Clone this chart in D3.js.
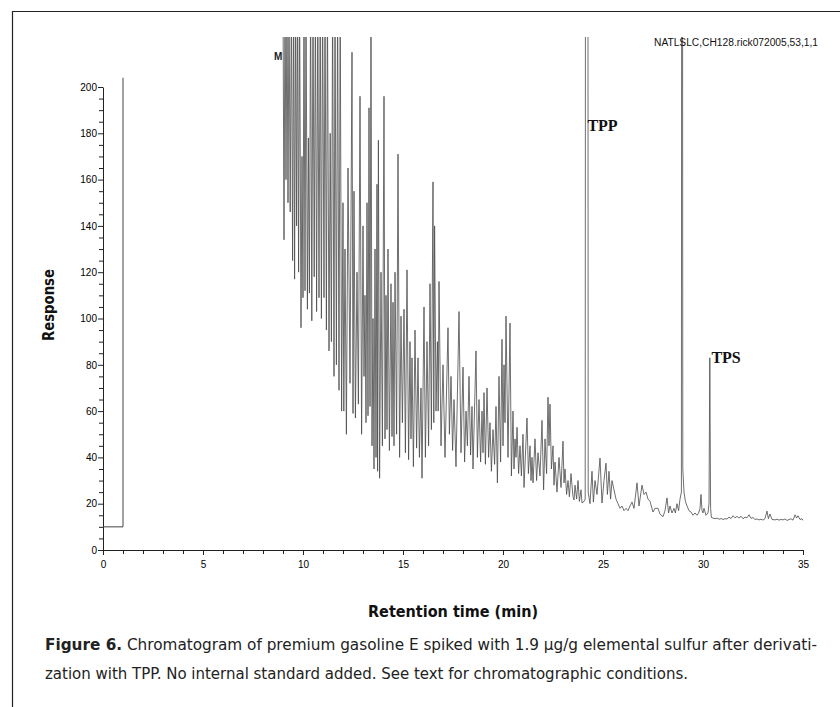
<!DOCTYPE html>
<html lang="en">
<head>
<meta charset="UTF-8">
<title>Chromatogram - premium gasoline E</title>
<script src="https://cdn.jsdelivr.net/npm/d3@7/dist/d3.min.js"></script>
<style>
  body { margin: 0; background: #fff; }
  svg { display: block; }
  .tick text { font-family: "Liberation Sans", Arial, sans-serif; font-size: 10px; fill: #000; }
  .tick line, .domain { stroke: #222; stroke-width: 1; }
</style>
</head>
<body>
<script>
// x axis: retention time (min), y axis: response
var xTicks = [0, 5, 10, 15, 20, 25, 30, 35];
var yTicks = [0, 20, 40, 60, 80, 100, 120, 140, 160, 180, 200];

// solvent-delay step at the start of the run
var solventStep = [[0, 10], [1, 10], [1, 204]];

// trace: [time, response]; peaks above ~222 run off the top
var trace = [
  [9.00,240],[9.05,134],[9.10,240],[9.15,160],[9.20,240],[9.25,150],[9.30,240],[9.36,146],[9.42,240],[9.48,125],
  [9.53,240],[9.58,117],[9.63,240],[9.68,140],[9.73,240],[9.78,120],[9.83,240],[9.90,96],[9.95,170],[10.00,109],
  [10.05,240],[10.10,112],[10.15,240],[10.22,104],[10.27,178],[10.32,111],[10.38,240],[10.44,99],[10.50,240],[10.56,118],
  [10.62,240],[10.68,103],[10.74,240],[10.80,109],[10.86,240],[10.92,100],[10.98,240],[11.05,109],[11.10,240],[11.17,95],
  [11.22,240],[11.30,86],[11.36,180],[11.42,90],[11.48,240],[11.55,75],[11.60,240],[11.67,80],[11.73,240],[11.80,69],
  [11.86,240],[11.93,60],[12.00,150],[12.04,60],[12.10,130],[12.17,50],[12.25,165],[12.35,72],[12.45,215],[12.50,59],
  [12.55,155],[12.62,57],[12.70,120],[12.77,63],[12.85,196],[12.93,50],[13.00,140],[13.05,75],[13.10,110],[13.15,55],
  [13.20,150],[13.25,58],[13.30,191],[13.35,62],[13.40,240],[13.45,45],[13.50,100],[13.55,35],[13.60,130],[13.65,40],
  [13.70,158],[13.73,34],[13.77,177],[13.83,31],[13.90,120],[13.97,45],[14.05,196],[14.10,48],[14.15,110],[14.20,52],
  [14.25,130],[14.32,43],[14.40,115],[14.45,49],[14.50,107],[14.55,45],[14.60,120],[14.68,50],[14.75,171],[14.83,40],
  [14.90,101],[14.97,55],[15.05,104],[15.12,42],[15.20,121],[15.28,39],[15.35,90],[15.40,48],[15.45,83],[15.52,36],
  [15.60,95],[15.68,44],[15.75,83],[15.82,40],[15.90,70],[15.95,31],[16.05,105],[16.12,40],[16.20,90],[16.28,45],
  [16.35,115],[16.42,52],[16.50,159],[16.54,55],[16.58,140],[16.65,60],[16.72,90],[16.76,60],[16.80,116],[16.90,45],
  [17.00,80],[17.10,40],[17.25,96],[17.32,50],[17.40,75],[17.48,43],[17.55,65],[17.65,36],[17.80,103],[17.90,42],
  [18.00,79],[18.08,38],[18.15,60],[18.22,45],[18.30,75],[18.38,41],[18.45,62],[18.50,35],[18.65,86],[18.72,40],
  [18.80,65],[18.88,38],[18.95,60],[19.00,42],[19.05,68],[19.12,37],[19.20,70],[19.28,40],[19.35,55],[19.42,34],
  [19.50,52],[19.58,37],[19.65,62],[19.72,29],[19.80,75],[19.88,38],[19.95,91],[20.00,45],[20.05,80],[20.10,55],
  [20.15,101],[20.25,40],[20.35,98],[20.42,32],[20.50,60],[20.55,35],[20.60,48],[20.65,40],[20.70,53],[20.78,33],
  [20.85,45],[20.92,32],[21.00,50],[21.05,27],[21.20,57],[21.27,33],[21.35,45],[21.40,30],[21.45,40],[21.50,29],
  [21.60,48],[21.68,30],[21.75,42],[21.85,32],[21.95,56],[22.03,26],[22.10,48],[22.18,33],[22.25,66],[22.30,45],
  [22.35,63],[22.42,35],[22.50,45],[22.55,28],[22.60,38],[22.70,25],[22.80,40],[22.90,27],[23.00,47],[23.05,29],
  [23.10,35],[23.18,24],[23.25,30],[23.32,23],[23.40,33],[23.50,23],[23.55,21.6],[23.60,28],[23.68,22],[23.75,30],
  [23.82,21],[23.90,26],[23.95,20.3],[24.05,21],[24.11,22],[24.13,400],[24.24,400],[24.26,25],[24.35,20],[24.45,34],
  [24.52,20.7],[24.60,30],[24.70,24],[24.85,39.7],[24.95,20.3],[25.05,30],[25.15,37.5],[25.22,24],[25.30,34],[25.38,22],
  [25.45,30],[25.55,26],[25.65,22],[25.75,20],[25.85,18],[25.95,19],[26.05,17],[26.15,18],[26.25,17],[26.35,19],
  [26.45,20.7],[26.55,18],[26.70,29],[26.80,19],[26.95,28],[27.05,24],[27.15,25],[27.25,22],[27.35,21],[27.50,16.4],
  [27.60,18],[27.75,18],[27.85,15.5],[28.00,14.4],[28.10,17],[28.20,22.5],[28.28,16],[28.35,19],[28.45,16],[28.55,18],
  [28.62,16],[28.70,20],[28.78,17],[28.85,22],[28.92,25],[28.94,400],[28.97,400],[28.99,35],[29.05,25],[29.12,21],
  [29.20,19],[29.30,17],[29.40,16.4],[29.50,15],[29.60,16],[29.70,15],[29.78,16],[29.85,18],[29.90,24],[29.95,17],
  [30.00,16],[30.05,18],[30.15,15],[30.25,16],[30.30,20],[30.34,83],[30.38,18],[30.42,14],[30.50,13.8],[30.60,13.5],
  [30.70,13.8],[30.80,13.3],[30.90,13.6],[31.00,13.2],[31.10,13.5],[31.20,13.4],[31.30,14.2],[31.40,13.6],[31.50,14.8],[31.60,13.9],
  [31.70,14.5],[31.80,13.8],[31.90,14.6],[32.00,13.5],[32.10,14.2],[32.20,13.9],[32.30,15.2],[32.40,13.7],[32.50,14.0],[32.60,13.2],
  [32.70,13.4],[32.80,13.0],[32.90,13.3],[33.00,12.9],[33.10,13.6],[33.20,16.8],[33.27,13.5],[33.35,15.5],[33.45,13.2],[33.60,13.0],
  [33.70,13.3],[33.80,12.9],[33.90,13.2],[34.00,13.0],[34.10,13.4],[34.20,12.8],[34.30,13.1],[34.40,13.5],[34.50,12.9],[34.60,15.2],
  [34.68,13.8],[34.75,14.8],[34.85,13.2],[34.95,13.5],[35.00,12.8]
];

var peakLabels = [
  { name: "TPP", time: 24.22, response: 183 },
  { name: "TPS", time: 30.42, response: 83 }
];

var runId = "NATLSLC,CH128.rick072005,53,1,1";

var width = 840, height = 707;

var svg = d3.select("body").append("svg")
    .attr("width", width)
    .attr("height", height);

// page frame: top rule and left rule
svg.append("line").attr("x1", 12).attr("y1", 11.5).attr("x2", width).attr("y2", 11.5)
    .attr("stroke", "#222").attr("stroke-width", 1.2);
svg.append("line").attr("x1", 12.5).attr("y1", 11).attr("x2", 12.5).attr("y2", height)
    .attr("stroke", "#222").attr("stroke-width", 1.2);

var x = d3.scaleLinear().domain([0, 35]).range([103, 803]);
var y = d3.scaleLinear().domain([0, 200]).range([550, 87]);

// x axis with minor ticks every minute
svg.append("g")
    .attr("transform", "translate(0," + y(0) + ")")
    .call(d3.axisBottom(x).tickValues(d3.range(0, 36, 1)).tickSize(4).tickSizeOuter(0)
        .tickFormat(d => xTicks.includes(d) ? d : ""))
    .call(g => g.selectAll(".tick text").attr("dy", "1.1em"))
    .call(g => g.selectAll(".tick").filter(d => xTicks.includes(d)).select("line").attr("y2", 5));

// y axis with minor ticks every 5
svg.append("g")
    .attr("transform", "translate(" + x(0) + ",0)")
    .call(d3.axisLeft(y).tickValues(d3.range(0, 201, 5)).tickSize(4).tickSizeOuter(0)
        .tickFormat(d => yTicks.includes(d) ? d : ""))
    .call(g => g.selectAll(".tick").filter(d => yTicks.includes(d)).select("line").attr("x2", -5))
    .call(g => g.selectAll(".tick text").attr("x", -6));

// clip: trace runs off the top of the plotting area
svg.append("clipPath").attr("id", "plotClip")
    .append("rect").attr("x", x(0)).attr("y", 37).attr("width", x(35) - x(0) + 2).attr("height", y(0) - 37);

var line = d3.line().x(d => x(d[0])).y(d => y(d[1]));

var plot = svg.append("g").attr("clip-path", "url(#plotClip)");

plot.append("path")
    .datum(solventStep)
    .attr("fill", "none")
    .attr("stroke", "#444")
    .attr("stroke-width", 1)
    .attr("d", line);

plot.append("path")
    .datum(trace)
    .attr("fill", "none")
    .attr("stroke", "#4a4a4a")
    .attr("stroke-width", 0.8)
    .attr("stroke-linejoin", "round")
    .attr("d", line);

// small instrument marks
svg.append("text")
    .attr("x", 274).attr("y", 60)
    .attr("font-family", "Liberation Sans, Arial, sans-serif")
    .attr("font-size", 10).attr("font-weight", "bold").attr("fill", "#222")
    .text("M");

svg.append("text")
    .attr("x", 654).attr("y", 46)
    .attr("font-family", "Liberation Sans, Arial, sans-serif")
    .attr("font-size", 10).attr("fill", "#111")
    .attr("textLength", 164).attr("lengthAdjust", "spacingAndGlyphs")
    .text(runId);

svg.selectAll(".peak-label")
    .data(peakLabels)
    .enter().append("text")
    .attr("class", "peak-label")
    .attr("x", d => x(d.time))
    .attr("y", d => y(d.response) + 5)
    .attr("font-family", "Liberation Serif, 'Times New Roman', serif")
    .attr("font-size", 16).attr("font-weight", "bold").attr("fill", "#111")
    .text(d => d.name);

// axis titles
var condensed = "'Liberation Sans Narrow', 'DejaVu Sans Condensed', sans-serif";

svg.append("text")
    .attr("transform", "translate(54,305) rotate(-90)")
    .attr("text-anchor", "middle")
    .attr("font-family", condensed)
    .attr("font-size", 15).attr("font-weight", "bold").attr("fill", "#111")
    .attr("textLength", 72).attr("lengthAdjust", "spacingAndGlyphs")
    .text("Response");

svg.append("text")
    .attr("x", 453).attr("y", 617)
    .attr("text-anchor", "middle")
    .attr("font-family", condensed)
    .attr("font-size", 15).attr("font-weight", "bold").attr("fill", "#111")
    .attr("textLength", 170).attr("lengthAdjust", "spacingAndGlyphs")
    .text("Retention time (min)");

// caption
var cap1 = svg.append("text")
    .attr("x", 45).attr("y", 650)
    .attr("font-family", condensed)
    .attr("font-size", 16).attr("fill", "#222")
    .attr("textLength", 772).attr("lengthAdjust", "spacingAndGlyphs");
cap1.append("tspan").attr("font-weight", "bold").text("Figure 6.");
cap1.append("tspan").text(" Chromatogram of premium gasoline E spiked with 1.9 µg/g elemental sulfur after derivati-");

svg.append("text")
    .attr("x", 45).attr("y", 679)
    .attr("font-family", condensed)
    .attr("font-size", 16).attr("fill", "#222")
    .attr("textLength", 643).attr("lengthAdjust", "spacingAndGlyphs")
    .text("zation with TPP. No internal standard added. See text for chromatographic conditions.");
</script>
</body>
</html>
